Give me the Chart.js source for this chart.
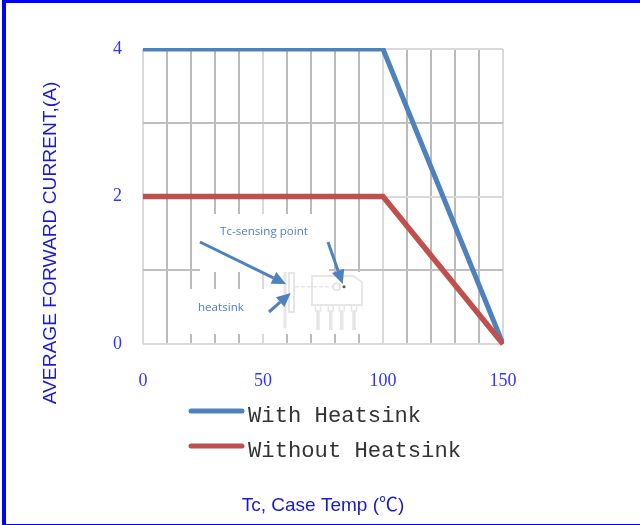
<!DOCTYPE html>
<html>
<head>
<meta charset="utf-8">
<title>Forward current derating</title>
<script src="https://cdn.jsdelivr.net/npm/chart.js@4"></script>
<style>
html, body { margin: 0; padding: 0; background: #fff; overflow: hidden; }
#frame { position: absolute; left: 2px; top: 0; width: 638px; height: 525px; box-sizing: border-box;
    border-left: 4px solid #00f; border-top: 3.5px solid #00f; border-bottom: 1px solid #00f; }
#myChart { position: absolute; left: 0; top: 0; }
</style>
</head>
<body>
<canvas id="myChart" width="640" height="525"></canvas>
<div id="frame"></div>
<script>
var temps = [0, 100, 150];
var withHeatsink = [4, 4, 0];
var withoutHeatsink = [2, 2, 0];
var seriesNames = ['With Heatsink', 'Without Heatsink'];
var xTickLabels = [0, 50, 100, 150];
var yTickLabels = [0, 2, 4];

var blue = '#4f81bd';
var red = '#c0504d';
var pale = '#e6e6e6';
var titleFont = '"Liberation Sans", "Noto Sans CJK SC"';

function line(c, x1, y1, x2, y2) {
    c.beginPath();
    c.moveTo(x1, y1);
    c.lineTo(x2, y2);
    c.stroke();
}

function arrow(c, x1, y1, x2, y2) {
    var a = Math.atan2(y2 - y1, x2 - x1);
    var bx = x2 - 14 * Math.cos(a);
    var by = y2 - 14 * Math.sin(a);
    c.strokeStyle = blue;
    c.fillStyle = blue;
    c.lineWidth = 3;
    line(c, x1, y1, bx, by);
    c.beginPath();
    c.moveTo(x2, y2);
    c.lineTo(bx - 6.5 * Math.sin(a), by + 6.5 * Math.cos(a));
    c.lineTo(bx + 6.5 * Math.sin(a), by - 6.5 * Math.cos(a));
    c.closePath();
    c.fill();
}

// the picture of the part sits on white patches that hide the grid
var patches = {
    id: 'patches',
    beforeDatasetsDraw: function (chart) {
        var c = chart.ctx;
        c.save();
        c.fillStyle = '#fff';
        c.fillRect(200, 214, 129, 58);
        c.fillRect(186, 289, 179, 45);
        c.fillRect(265, 272, 100, 20);
        c.restore();
    }
};

var notes = {
    id: 'notes',
    afterDraw: function (chart) {
        var c = chart.ctx;
        c.save();

        // part outline
        c.strokeStyle = pale;
        c.lineWidth = 3;
        line(c, 285, 272, 285, 328);
        [318, 330.7, 341.7, 354].forEach(function (x) {
            c.lineWidth = 3.5;
            line(c, x, 311, x, 330);
            c.lineWidth = 1.5;
            c.strokeRect(x - 2.5, 305, 5, 6);
        });
        c.lineWidth = 2;
        c.strokeRect(289, 273, 5, 39);
        c.beginPath();
        c.moveTo(312, 276);
        c.lineTo(353, 276);
        c.lineTo(362, 282);
        c.lineTo(362, 305);
        c.lineTo(312, 305);
        c.closePath();
        c.stroke();
        c.beginPath();
        c.arc(336.7, 286.7, 3.5, 0, Math.PI * 2);
        c.stroke();
        c.lineWidth = 1.5;
        c.setLineDash([4, 2]);
        line(c, 295, 286.7, 333, 286.7);
        c.setLineDash([]);
        c.fillStyle = '#555';
        c.beginPath();
        c.arc(344, 286.7, 1.5, 0, Math.PI * 2);
        c.fill();

        arrow(c, 200, 242, 286, 284);
        arrow(c, 328, 242, 342.7, 284);
        arrow(c, 269, 312, 290.7, 293);

        c.fillStyle = blue;
        c.font = '11.6px "Open Sans"';
        c.textBaseline = 'middle';
        c.textAlign = 'left';
        c.fillText('Tc-sensing point', 220, 232);
        c.fillText('heatsink', 198, 308);

        // legend
        var rows = [[411, blue], [446, red]];
        rows.forEach(function (row, i) {
            c.strokeStyle = row[1];
            c.lineWidth = 5;
            c.lineCap = 'round';
            line(c, 191, row[0], 242, row[0]);
            c.fillStyle = '#333';
            c.font = '22.2px "Liberation Mono"';
            c.fillText(seriesNames[i], 248, row[0] + 5);
        });

        // y axis title, it is not centred on the plot
        c.translate(51, 243);
        c.rotate(-Math.PI / 2);
        c.fillStyle = '#1a1acc';
        c.font = '19.2px ' + titleFont;
        c.textAlign = 'center';
        c.fillText('AVERAGE FORWARD CURRENT,(A)', 0, 0);
        c.restore();
    }
};

function points(values) {
    return values.map(function (v, i) {
        return { x: temps[i], y: v };
    });
}

var ctx = document.getElementById('myChart');
var chartGraph = new Chart(ctx, {
    type: 'line',
    data: {
        datasets: [{
            label: seriesNames[0],
            data: points(withHeatsink),
            borderColor: blue,
            borderWidth: 5,
            pointRadius: 0,
            clip: { left: 0, top: 1, right: 1, bottom: 2 },
            order: 2
        }, {
            label: seriesNames[1],
            data: points(withoutHeatsink),
            borderColor: red,
            borderWidth: 5.5,
            pointRadius: 0,
            clip: { left: 0, top: 1, right: 1, bottom: 2 },
            order: 1
        }]
    },
    plugins: [patches, notes],
    options: {
        responsive: false,
        animation: false,
        layout: { padding: { top: 49, right: 137 } },
        plugins: {
            legend: { display: false },
            tooltip: { enabled: false }
        },
        scales: {
            x: {
                type: 'linear',
                min: 0,
                max: 150,
                afterFit: function (s) { s.height = 181; },
                border: { display: false },
                grid: {
                    drawTicks: false,
                    color: function (g) { return g.tick.value % 50 === 0 ? '#d9d9d9' : '#bababa'; },
                    lineWidth: 2
                },
                ticks: {
                    stepSize: 10,
                    autoSkip: false,
                    maxRotation: 0,
                    padding: 26,
                    color: '#3333ff',
                    font: { family: 'Liberation Serif', size: 18 },
                    callback: function (v) { return xTickLabels.indexOf(v) >= 0 ? v : ''; }
                },
                title: {
                    display: true,
                    text: 'Tc, Case Temp (℃)',
                    color: '#1a1acc',
                    font: { family: titleFont, size: 19 },
                    padding: { top: 0, bottom: 8 }
                }
            },
            y: {
                min: 0,
                max: 4,
                afterFit: function (s) { s.width = 143; },
                border: { display: false },
                grid: {
                    drawTicks: false,
                    color: function (g) { return g.tick.value % 2 === 0 ? '#d9d9d9' : '#bfbfbf'; },
                    lineWidth: 2
                },
                ticks: {
                    stepSize: 1,
                    autoSkip: false,
                    padding: 21,
                    color: '#3333ff',
                    font: { family: 'Liberation Serif', size: 18 },
                    callback: function (v) { return yTickLabels.indexOf(v) >= 0 ? v : ''; }
                }
            }
        }
    }
});
</script>
</body>
</html>
